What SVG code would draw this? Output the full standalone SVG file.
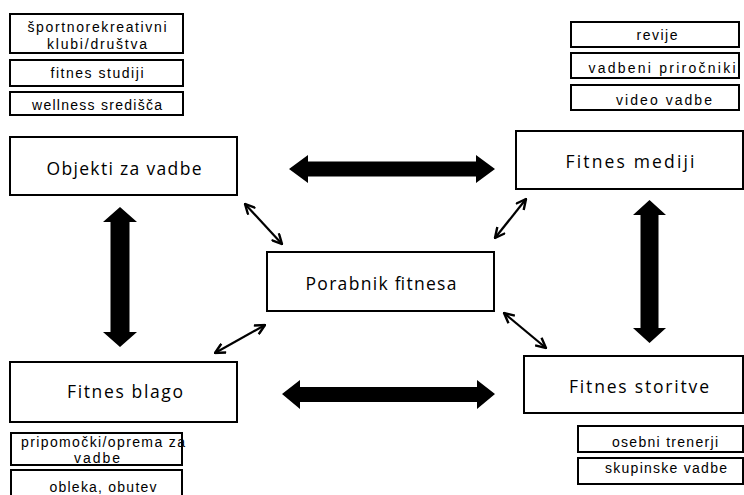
<svg xmlns="http://www.w3.org/2000/svg" width="744" height="495" viewBox="0 0 744 495">
<defs>
<marker id="v" viewBox="0 0 12 12" refX="11" refY="6" markerWidth="12" markerHeight="12" markerUnits="userSpaceOnUse" orient="auto-start-reverse">
<path d="M1,1 L11,6 L1,11" fill="none" stroke="#000" stroke-width="2.4"/>
</marker>
</defs>
<style>
.b{fill:#fff;stroke:#000;stroke-width:2}
text{fill:#000;text-anchor:middle}
.m{font-family:"Open Sans","Liberation Sans",sans-serif;font-size:17.5px}
.s{font-family:"Liberation Sans",Arial,sans-serif;font-size:14px}
.thin{fill:none;stroke:#000;stroke-width:2.2;marker-start:url(#v);marker-end:url(#v)}
.thick{fill:#000}
</style>
<rect width="744" height="495" fill="#fff"/>
<g id="connectors">
<polygon class="thick" points="289,169 308,155 308,161.5 476,161.5 476,155 495,169 476,183 476,176.5 308,176.5 308,183"/>
<polygon class="thick" points="282,394 300,380 300,387 477,387 477,380 495,394 477,409 477,402 300,402 300,409"/>
<polygon class="thick" points="120,207 137,222 129.5,222 129.5,332 137,332 120,347 103,332 110.5,332 110.5,222 103,222"/>
<polygon class="thick" points="649.5,200 666,215 658.5,215 658.5,328 666,328 649.5,343 633,328 640.5,328 640.5,215 633,215"/>
<line class="thin" x1="245" y1="204" x2="282" y2="244"/>
<line class="thin" x1="526" y1="199" x2="495" y2="238"/>
<line class="thin" x1="265" y1="325" x2="215" y2="353"/>
<line class="thin" x1="504" y1="313" x2="546" y2="348"/>
</g>
<g id="n-sport"><rect class="b" x="10" y="14" width="173" height="39"/><text class="s" x="97" y="32" textLength="139" lengthAdjust="spacing">športnorekreativni</text><text class="s" x="97" y="49" textLength="100" lengthAdjust="spacing">klubi/društva</text></g>
<g id="n-studiji"><rect class="b" x="10" y="60" width="173" height="26"/><text class="s" x="97" y="78" textLength="93" lengthAdjust="spacing">fitnes studiji</text></g>
<g id="n-wellness"><rect class="b" x="10" y="92" width="173" height="23"/><text class="s" x="97" y="110" textLength="130" lengthAdjust="spacing">wellness središča</text></g>
<g id="n-revije"><rect class="b" x="571" y="22" width="168" height="25"/><text class="s" x="657" y="40" textLength="41" lengthAdjust="spacing">revije</text></g>
<g id="n-prirocniki"><rect class="b" x="571" y="53" width="168" height="25"/><text class="s" x="662" y="73" textLength="147" lengthAdjust="spacing">vadbeni priročniki</text></g>
<g id="n-video"><rect class="b" x="571" y="85" width="168" height="25"/><text class="s" x="664" y="105" textLength="96" lengthAdjust="spacing">video vadbe</text></g>
<g id="n-objekti"><rect class="b" x="10" y="137" width="227" height="58"/><text class="m" x="124" y="175" textLength="155" lengthAdjust="spacing">Objekti za vadbe</text></g>
<g id="n-mediji"><rect class="b" x="516" y="131" width="227" height="58"/><text class="m" x="630" y="168" textLength="129" lengthAdjust="spacing">Fitnes   mediji</text></g>
<g id="n-porabnik"><rect class="b" x="267" y="252" width="227" height="59"/><text class="m" x="381" y="290" textLength="151" lengthAdjust="spacing">Porabnik fitnesa</text></g>
<g id="n-blago"><rect class="b" x="10" y="362" width="227" height="60"/><text class="m" x="125" y="398" textLength="116" lengthAdjust="spacing">Fitnes  blago</text></g>
<g id="n-storitve"><rect class="b" x="524" y="356" width="219" height="57"/><text class="m" x="639" y="393" textLength="140" lengthAdjust="spacing">Fitnes  storitve</text></g>
<g id="n-pripomocki"><rect class="b" x="11" y="433" width="171" height="32"/><text class="s" x="103" y="447" textLength="164" lengthAdjust="spacing">pripomočki/oprema za</text><text class="s" x="97" y="463" textLength="46" lengthAdjust="spacing">vadbe</text></g>
<g id="n-obleka"><rect class="b" x="11" y="470" width="171" height="30"/><text class="s" x="103" y="492" textLength="107" lengthAdjust="spacing">obleka, obutev</text></g>
<g id="n-trenerji"><rect class="b" x="578" y="426" width="165" height="26"/><text class="s" x="665" y="447" textLength="106" lengthAdjust="spacing">osebni trenerji</text></g>
<g id="n-skupinske"><rect class="b" x="578" y="458" width="165" height="26"/><text class="s" x="666" y="473" textLength="122" lengthAdjust="spacing">skupinske vadbe</text></g>
</svg>
